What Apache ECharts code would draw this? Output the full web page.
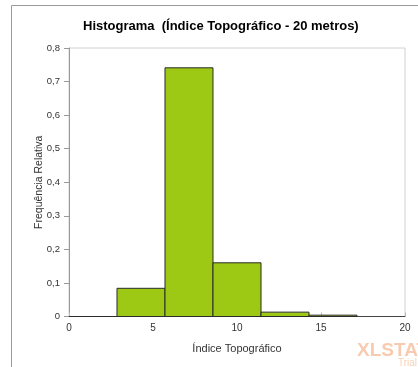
<!DOCTYPE html>
<html>
<head>
<meta charset="utf-8">
<script src="https://cdn.jsdelivr.net/npm/echarts@6/dist/echarts.min.js"></script>
<style>
  html, body { margin: 0; padding: 0; background: #fff; }
  #chart { width: 418px; height: 367px; }
</style>
</head>
<body>
<div id="chart"></div>
<script>
// Histogram classes: lower/upper bounds of each bin and relative frequency
const binStart = [0, 2.857, 5.714, 8.571, 11.429, 14.286];
const binEnd   = [2.857, 5.714, 8.571, 11.429, 14.286, 17.143];
const relFreq  = [0, 0.084, 0.741, 0.160, 0.013, 0.004];
const yTicks = [0, 0.1, 0.2, 0.3, 0.4, 0.5, 0.6, 0.7, 0.8];
const xTicks = [0, 5, 10, 15, 20];

const histData = binStart.map((s, i) => [s, binEnd[i], relFreq[i]]);

const chart = echarts.init(document.getElementById('chart'), null, { renderer: 'canvas' });
const font = '"Liberation Sans", Arial, sans-serif';

chart.setOption({
  animation: false,
  title: {
    text: 'Histograma  (Índice Topográfico - 20 metros)',
    left: 78,
    top: 15,
    textStyle: { fontFamily: font, fontSize: 13, fontWeight: 'bold', color: '#000' }
  },
  grid: {
    left: 69, right: 13, top: 48, bottom: 50.5,
    show: true, borderColor: '#d0d0d0', borderWidth: 1
  },
  xAxis: {
    type: 'value', min: 0, max: 20, interval: 5,
    name: 'Índice Topográfico', nameLocation: 'middle', nameGap: 27,
    nameMoveOverlap: false,
    nameTextStyle: { fontFamily: font, fontSize: 11, color: '#333' },
    axisLine: { show: true, lineStyle: { color: '#444', width: 1 } },
    axisTick: { show: true, inside: true, length: 4, lineStyle: { color: '#bbb' } },
    axisLabel: {
      fontFamily: font, fontSize: 10, color: '#333', margin: 7,
      formatter: v => String(xTicks.find(k => k === v) ?? v)
    },
    splitLine: { show: false }
  },
  yAxis: {
    type: 'value', min: 0, max: 0.8, interval: 0.1,
    name: 'Frequência Relativa', nameLocation: 'middle', nameGap: 24,
    nameMoveOverlap: false,
    nameTextStyle: { fontFamily: font, fontSize: 10.5, color: '#333' },
    axisLine: { show: true, lineStyle: { color: '#999', width: 1 } },
    axisTick: { show: true, inside: false, length: 5, lineStyle: { color: '#999' } },
    axisLabel: {
      fontFamily: font, fontSize: 9.5, color: '#333', margin: 9,
      formatter: v => {
        const t = yTicks.find(k => Math.abs(k - v) < 1e-9);
        return t === 0 ? '0' : String(Math.round(v * 10) / 10).replace('.', ',');
      }
    },
    splitLine: { show: false }
  },
  series: [{
    type: 'custom',
    data: histData,
    encode: { x: [0, 1], y: 2 },
    renderItem: function (params, api) {
      const p0 = api.coord([api.value(0), 0]);
      const p1 = api.coord([api.value(1), api.value(2)]);
      return {
        type: 'rect',
        shape: { x: p0[0], y: p1[1], width: p1[0] - p0[0], height: p0[1] - p1[1] },
        style: { fill: '#9dc914', stroke: '#2b2b2b', lineWidth: 1 }
      };
    }
  }],
  graphic: [
    {
      type: 'rect', silent: true, z: -1,
      shape: { x: 11.5, y: 5.5, width: 430, height: 400 },
      style: { fill: 'none', stroke: '#9a9a9a', lineWidth: 1 }
    },
    {
      type: 'text', left: 357, top: 341, silent: true,
      style: { text: 'XLSTAT', fontFamily: font, fontSize: 19, fontWeight: 'bold', fill: 'rgba(240,140,80,0.45)' }
    },
    {
      type: 'text', left: 398, top: 358, silent: true,
      style: { text: 'Trial', fontFamily: font, fontSize: 10, fill: 'rgba(240,150,90,0.45)' }
    }
  ]
});
</script>
</body>
</html>
